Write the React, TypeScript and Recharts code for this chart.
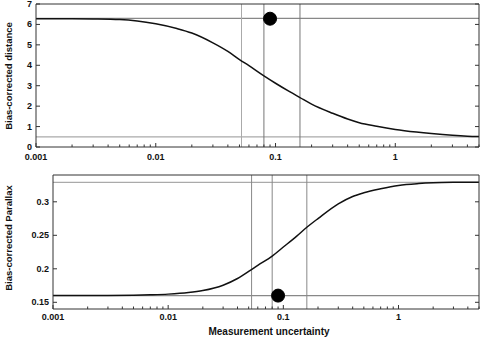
import {
  ComposedChart,
  Line,
  XAxis,
  YAxis,
  ReferenceLine,
  ReferenceDot,
} from "recharts";

const uncertainty = [
  0.001, 0.002, 0.003, 0.005, 0.007, 0.01, 0.015, 0.02, 0.03, 0.04, 0.05, 0.06,
  0.08, 0.1, 0.13, 0.16, 0.2, 0.3, 0.4, 0.5, 0.7, 1, 1.5, 2, 3, 4, 5,
];
const distance = [
  6.28, 6.28, 6.27, 6.24, 6.17, 6.03, 5.8, 5.58, 5.1, 4.68, 4.28, 3.98, 3.48,
  3.12, 2.72, 2.42, 2.1, 1.65, 1.37, 1.19, 1.015, 0.86, 0.73, 0.655, 0.57, 0.53,
  0.515,
];
const parallax = [
  0.16, 0.16, 0.1602, 0.1606, 0.1612, 0.1622, 0.1645, 0.1675, 0.1755, 0.1855,
  0.196, 0.205, 0.219, 0.2325, 0.2485, 0.262, 0.275, 0.297, 0.308, 0.3135,
  0.3195, 0.3245, 0.3272, 0.3283, 0.329, 0.3292, 0.3293,
];

// reference markers
const distLevels = [6.3, 0.5];
const parLevels = [0.329, 0.16];
const distVLines = [0.052, 0.08, 0.16];
const parVLines = [0.053, 0.08, 0.16];
const distDot = { x: 0.09, y: 6.28 };
const parDot = { x: 0.09, y: 0.16 };

// ticks
const xDecades = [0.001, 0.01, 0.1, 1];
const xDecadeLabels = ["0.001", "0.01", "0.1", "1"];
const minorSteps = [2, 3, 4, 5, 6, 7, 8, 9];
const distTicks = [0, 1, 2, 3, 4, 5, 6, 7];
const parTicks = [0.15, 0.2, 0.25, 0.3];
const parTickLabels = ["0.15", "0.2", "0.25", "0.3"];

const xTicks = xDecades
  .flatMap((d) => [d, ...minorSteps.map((m) => d * m)])
  .filter((v) => v <= 5.0001);

const distData = uncertainty.map((x, i) => ({ x, y: distance[i] }));
const parData = uncertainty.map((x, i) => ({ x, y: parallax[i] }));

const FONT = "'Liberation Sans', Arial, Helvetica, sans-serif";
const INK = "#111";
const MAJOR = 4;
const MINOR = 2.5;

function majorIndex(v: number) {
  return xDecades.findIndex((d) => Math.abs(v / d - 1) < 1e-6);
}

// x ticks drawn inward, label below for decades
function xTickBottom(labelDy: number) {
  return (props: any) => {
    const { x, y, payload } = props;
    const idx = majorIndex(payload.value);
    const len = idx >= 0 ? MAJOR : MINOR;
    return (
      <g>
        <line x1={x} x2={x} y1={y} y2={y - len} stroke="#333" strokeWidth={1} />
        {idx >= 0 && (
          <text
            x={x}
            y={y + labelDy}
            textAnchor="middle"
            dominantBaseline="central"
            fontSize={9}
            fontWeight="bold"
            fontFamily={FONT}
            fill={INK}
          >
            {xDecadeLabels[idx]}
          </text>
        )}
      </g>
    );
  };
}

function xTickTop(props: any) {
  const { x, y, payload } = props;
  const len = majorIndex(payload.value) >= 0 ? MAJOR : MINOR;
  return <line x1={x} x2={x} y1={y} y2={y + len} stroke="#333" strokeWidth={1} />;
}

function yTickLeft(labels: string[] | null) {
  return (props: any) => {
    const { x, y, payload, index } = props;
    const text = labels ? labels[index] : String(payload.value);
    return (
      <g>
        <line x1={x} x2={x + MAJOR} y1={y} y2={y} stroke="#333" strokeWidth={1} />
        <text
          x={x - 4}
          y={y}
          textAnchor="end"
          dominantBaseline="central"
          fontSize={9}
          fontWeight="bold"
          fontFamily={FONT}
          fill={INK}
        >
          {text}
        </text>
      </g>
    );
  };
}

function yTickRight(props: any) {
  const { x, y } = props;
  return <line x1={x} x2={x - MAJOR} y1={y} y2={y} stroke="#333" strokeWidth={1} />;
}

interface PanelProps {
  data: { x: number; y: number }[];
  domain: [number, number];
  yTicks: number[];
  yLabels: string[] | null;
  levels: number[];
  vlines: number[];
  dot: { x: number; y: number };
  yAxisWidth: number;
  top: number;
  height: number;
  xAxisHeight: number;
  labelDy: number;
  vColors: string[];
  hColors: string[];
}

function Panel(p: PanelProps) {
  return (
    <div style={{ position: "absolute", left: 0, top: p.top }}>
      <ComposedChart
        width={483}
        height={p.height}
        margin={{ top: 3, right: 3, bottom: 0, left: 0 }}
      >
        <XAxis
          xAxisId="b"
          dataKey="x"
          type="number"
          scale="log"
          domain={[0.001, 5]}
          allowDataOverflow
          ticks={xTicks}
          interval={0}
          tickSize={0}
          tickMargin={0}
          tickLine={false}
          tick={xTickBottom(p.labelDy)}
          height={p.xAxisHeight}
          axisLine={{ stroke: "#333" }}
        />
        <XAxis
          xAxisId="t"
          orientation="top"
          type="number"
          scale="log"
          domain={[0.001, 5]}
          allowDataOverflow
          ticks={xTicks}
          interval={0}
          tickSize={0}
          tickMargin={0}
          tickLine={false}
          tick={xTickTop}
          height={1}
          axisLine={{ stroke: "#333" }}
        />
        <YAxis
          yAxisId="l"
          type="number"
          domain={p.domain}
          allowDataOverflow
          ticks={p.yTicks}
          interval={0}
          tickSize={0}
          tickMargin={0}
          tickLine={false}
          tick={yTickLeft(p.yLabels)}
          width={p.yAxisWidth}
          axisLine={{ stroke: "#333" }}
        />
        <YAxis
          yAxisId="r"
          orientation="right"
          type="number"
          domain={p.domain}
          allowDataOverflow
          ticks={p.yTicks}
          interval={0}
          tickSize={0}
          tickMargin={0}
          tickLine={false}
          tick={yTickRight}
          width={1}
          axisLine={{ stroke: "#333" }}
        />
        {p.levels.map((v, i) => (
          <ReferenceLine
            key={"h" + i}
            xAxisId="b"
            yAxisId="l"
            y={v}
            stroke={p.hColors[i]}
            strokeWidth={1.2}
          />
        ))}
        {p.vlines.map((v, i) => (
          <ReferenceLine
            key={"v" + i}
            xAxisId="b"
            yAxisId="l"
            x={v}
            stroke={p.vColors[i]}
            strokeWidth={1}
          />
        ))}
        <Line
          xAxisId="b"
          yAxisId="l"
          data={p.data}
          dataKey="y"
          type="monotone"
          stroke="#111"
          strokeWidth={1.5}
          dot={false}
          isAnimationActive={false}
        />
        <ReferenceDot
          xAxisId="b"
          yAxisId="l"
          x={p.dot.x}
          y={p.dot.y}
          r={6.5}
          fill="#000"
          stroke="#000"
          ifOverflow="visible"
        />
      </ComposedChart>
    </div>
  );
}

const titleStyle: React.CSSProperties = {
  position: "absolute",
  fontFamily: FONT,
  fontWeight: "bold",
  fontSize: 9.5,
  color: INK,
  whiteSpace: "nowrap",
  transform: "translate(-50%, -50%) rotate(-90deg)",
  lineHeight: 1,
};

export default function App() {
  return (
    <div
      style={{
        position: "absolute",
        left: 0,
        top: 0,
        width: 483,
        height: 338,
        background: "#fff",
      }}
    >
      <Panel
        data={distData}
        domain={[0, 7]}
        yTicks={distTicks}
        yLabels={null}
        levels={distLevels}
        vlines={distVLines}
        dot={distDot}
        yAxisWidth={36}
        top={0}
        height={170}
        xAxisHeight={23}
        labelDy={10}
        vColors={["#aaa", "#777", "#777"]}
        hColors={["#888", "#aaa"]}
      />
      <Panel
        data={parData}
        domain={[0.14, 0.34]}
        yTicks={parTicks}
        yLabels={parTickLabels}
        levels={parLevels}
        vlines={parVLines}
        dot={parDot}
        yAxisWidth={53}
        top={171}
        height={167}
        xAxisHeight={29}
        labelDy={7.5}
        vColors={["#888", "#888", "#888"]}
        hColors={["#aaa", "#888"]}
      />
      <div style={{ ...titleStyle, left: 8.5, top: 76 }}>Bias-corrected distance</div>
      <div style={{ ...titleStyle, left: 8.5, top: 238 }}>Bias-corrected Parallax</div>
      <div
        style={{
          ...titleStyle,
          fontSize: 10,
          left: 269,
          top: 332,
          transform: "translate(-50%, -50%)",
        }}
      >
        Measurement uncertainty
      </div>
    </div>
  );
}
